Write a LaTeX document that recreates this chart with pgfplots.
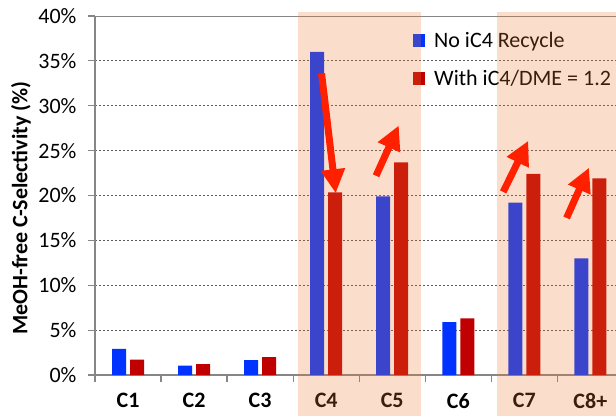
\documentclass[border=0pt]{standalone}
\usepackage{pgfplots}
\pgfplotsset{compat=1.18}
\usepackage{fontspec}
\setmainfont{Carlito}
\usetikzlibrary{arrows.meta}
\definecolor{barblue}{RGB}{0,51,255}
\definecolor{barred}{RGB}{192,0,0}
\definecolor{arrowred}{RGB}{255,32,0}
\definecolor{peachov}{RGB}{237,125,49}
\definecolor{axgray}{RGB}{134,134,134}
\definecolor{gridgray}{RGB}{90,90,90}
\pgfplotsset{mylegend/.style={legend image code/.code={\fill[##1] (0pt,-6.5pt) rectangle (12pt,6.5pt);}}}
\begin{document}
\begin{tikzpicture}[x=1pt,y=1pt]
\useasboundingbox (0,0) rectangle (616,416);
\begin{axis}[
  at={(95pt,41pt)}, anchor=south west,
  scale only axis, width=521pt, height=359pt,
  xmin=-0.5, xmax=7.388, ymin=0, ymax=40,
  ybar=4pt, bar width=14pt,
  axis lines*=left,
  axis line style={axgray, line width=1.5pt},
  tick align=outside,
  major tick length=7pt, minor tick length=7pt,
  tick style={axgray, line width=1.2pt},
  xtick={0,1,2,3,4,5,6,7},
  xticklabels={C1,C2,C3,C4,C5,C6,C7,C8+},
  major x tick style={draw=none},
  minor xtick={-0.5,0.5,1.5,2.5,3.5,4.5,5.5,6.5},
  ytick={0,5,10,15,20,25,30,35,40},
  yticklabel={\pgfmathprintnumber{\tick}\%},
  /pgf/number format/assume math mode=true,
  xticklabel style={font=\fontsize{22}{24}\selectfont\bfseries, yshift=-8pt},
  yticklabel style={font=\fontsize{22}{26}\selectfont, xshift=-8pt},
  ymajorgrids,
  y grid style={gridgray, dash pattern=on 2pt off 2pt, line width=0.9pt},
  ylabel={MeOH-free C-Selectivity (\%)},
  ylabel style={font=\fontsize{22}{26}\selectfont\bfseries, at={(axis description cs:-0.142,0.465)}, anchor=center},
  legend style={at={(axis description cs:0.6104,0.96)}, anchor=north west, draw=none, fill=none, inner sep=0pt, font=\fontsize{22}{26}\selectfont, row sep=17pt,
    /tikz/every odd column/.append style={column sep=7pt}},
  legend cell align=left,
  mylegend,
]
\addplot[fill=barblue, draw=none, mylegend] coordinates {(0,2.9) (1,1.05) (2,1.65) (3,36.0) (4,19.9) (5,5.9) (6,19.2) (7,13.0)};
\addplot[fill=barred, draw=none, mylegend] coordinates {(0,1.7) (1,1.2) (2,2.0) (3,20.35) (4,23.7) (5,6.3) (6,22.4) (7,21.9)};
\legend{No iC4 Recycle, With iC4/DME = 1.2}
\draw[axgray, line width=1.5pt] (axis cs:-0.5,40) -- (axis cs:7.388,40);
\coordinate (a1s) at (axis cs:2.93,33.6);
\coordinate (a1e) at (axis cs:3.145,20.25);
\coordinate (a2s) at (axis cs:3.755,22.2);
\coordinate (a2e) at (axis cs:4.10,27.8);
\coordinate (a3s) at (axis cs:5.68,20.4);
\coordinate (a3e) at (axis cs:6.06,26.1);
\coordinate (a4s) at (axis cs:6.64,17.5);
\coordinate (a4e) at (axis cs:6.98,23.1);
\end{axis}
\fill[peachov, fill opacity=0.25] (298,0) rectangle (421,404);
\fill[peachov, fill opacity=0.25] (496.5,0) rectangle (616,404);
\begin{scope}[arrowred, line width=7pt, -{Triangle[width=23pt,length=24pt]}]
\draw (a1s) -- (a1e);
\draw (a2s) -- (a2e);
\draw (a3s) -- (a3e);
\draw (a4s) -- (a4e);
\end{scope}
\end{tikzpicture}
\end{document}
